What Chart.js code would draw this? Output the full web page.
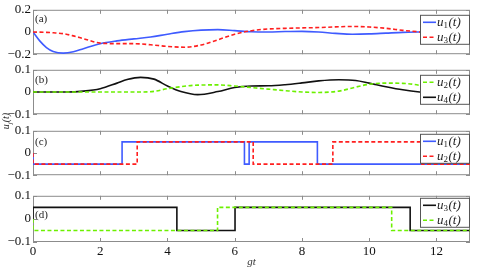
<!DOCTYPE html>
<html>
<head>
<meta charset="utf-8">
<script src="https://cdn.jsdelivr.net/npm/chart.js@4/dist/chart.umd.min.js"></script>
<style>
body { margin: 0; background: #fff; }
#wrap { position: relative; width: 485px; height: 269px; overflow: hidden; }
canvas { position: absolute; left: 0; }
#ylab { position: absolute; left: -9px; top: 115px; width: 30px; height: 12px; line-height: 12px;
  text-align: center; transform: rotate(-90deg); font: italic 10px "Liberation Serif"; color: #222; }
#ylab sub { font-size: 7px; }
</style>
</head>
<body>
<div id="wrap">
  <canvas id="pa" width="485" height="64" style="top:0px"></canvas>
  <canvas id="pb" width="485" height="64" style="top:60px"></canvas>
  <canvas id="pc" width="485" height="64" style="top:121px"></canvas>
  <canvas id="pd" width="485" height="83" style="top:186px"></canvas>
  <div id="ylab">u<sub>j</sub>(t)</div>
</div>
<script>
// panel (a): smooth curves
const tA = [0, 0.2, 0.4, 0.6, 0.9, 1.2, 1.5, 2, 2.5, 3, 3.5, 4, 4.5, 5, 5.5, 6, 6.5, 7, 7.5, 8, 8.5, 9, 9.5, 10, 10.5, 11, 11.5, 12, 12.5, 13];
const u1a = [0, -0.08, -0.14, -0.175, -0.19, -0.178, -0.15, -0.105, -0.08, -0.062, -0.045, -0.02, 0.003, 0.017, 0.021, 0.012, 0.002, 0, 0.004, 0.006, 0, -0.012, -0.02, -0.017, -0.01, -0.003, 0, 0.002, 0.002, 0];
const u3a = [0, -0.001, -0.003, -0.007, -0.015, -0.035, -0.06, -0.1, -0.105, -0.105, -0.115, -0.13, -0.137, -0.117, -0.07, -0.02, 0.012, 0.027, 0.033, 0.037, 0.04, 0.046, 0.05, 0.045, 0.033, 0.015, 0, -0.02, -0.038, -0.045];

// panel (b): smooth curves
const tB = [0, 0.5, 1, 1.5, 2, 2.5, 2.8, 3.2, 3.6, 4, 4.4, 4.9, 5.5, 6, 6.5, 7, 7.5, 8, 8.5, 9.1, 9.6, 10, 10.5, 11, 11.5, 12, 12.5, 13];
const u2b = [0, 0, 0, 0, 0, 0, 0, 0, 0.003, 0.015, 0.024, 0.031, 0.032, 0.027, 0.02, 0.013, 0.006, 0, -0.002, 0.004, 0.022, 0.035, 0.04, 0.039, 0.03, 0.01, -0.01, -0.025];
const u4b = [0, 0, 0, 0.004, 0.015, 0.04, 0.056, 0.066, 0.058, 0.027, 0.002, -0.012, 0.002, 0.02, 0.027, 0.028, 0.033, 0.041, 0.05, 0.055, 0.052, 0.04, 0.024, 0.01, 0, -0.006, -0.01, -0.012];

// switching panels (c), (d): switch times and held values
const t1c = [0, 0, 2.65, 6.29, 6.43, 8.46, 13];
const u1c = [0, -0.05, 0.05, -0.05, 0.05, -0.05, -0.05];
const t2c = [0, 0, 3.1, 6.55, 8.92, 11.57, 13];
const u2c = [0, -0.05, 0.05, -0.05, 0.05, -0.05, -0.05];
const t3d = [0, 0, 4.28, 6.01, 11.22, 13];
const u3d = [0, 0.05, -0.05, 0.05, -0.05, -0.05];
const t4d = [0, 0, 5.49, 10.67, 13];
const u4d = [0, -0.05, 0.05, -0.05, -0.05];

const xTicks = [2, 4, 6, 8, 10, 12];

const BLUE = '#3f5bff', RED = '#ff1f1f', GREEN = '#6cf000', BLACK = '#111';
const SERIF = '"Liberation Serif", "DejaVu Serif", serif';

function pts(ts, vs) {
	return ts.map((t, i) => ({ x: t, y: vs[i] }));
}

function fmt(v) {
	if (Math.abs(v) < 1e-9) return '0';
	return (v < 0 ? '\u2212' : '') + Math.abs(v).toFixed(1);
}

const framePlugin = {
	id: 'frame',
	beforeDatasetsDraw(chart) {
		const { ctx, chartArea: a, scales } = chart;
		ctx.save();
		ctx.strokeStyle = '#8c8c8c';
		ctx.lineWidth = 1;
		ctx.strokeRect(a.left + 0.5, a.top + 0.5, a.right - a.left - 1, a.bottom - a.top - 1);
		ctx.beginPath();
		xTicks.forEach(v => {
			const x = Math.round(scales.x.getPixelForValue(v)) + 0.5;
			ctx.moveTo(x, a.top); ctx.lineTo(x, a.top + 4);
			ctx.moveTo(x, a.bottom); ctx.lineTo(x, a.bottom - 4);
		});
		scales.y.ticks.forEach(t => {
			const y = Math.round(scales.y.getPixelForValue(t.value)) + 0.5;
			ctx.moveTo(a.left, y); ctx.lineTo(a.left + 4, y);
			ctx.moveTo(a.right, y); ctx.lineTo(a.right - 4, y);
		});
		ctx.stroke();
		ctx.restore();
	},
	afterDatasetsDraw(chart, args, opts) {
		const { ctx, chartArea: a } = chart;
		ctx.save();
		// panel tag
		ctx.fillStyle = '#222';
		ctx.font = '11px ' + SERIF;
		ctx.textBaseline = 'top';
		ctx.fillText(opts.tag, a.left + 2, a.top + opts.tagDy);
		// legend box
		const lw = 49, lh = 29;
		const lx = a.right - lw - 1, ly = a.top + opts.legDy;
		ctx.fillStyle = '#fff';
		ctx.fillRect(lx, ly, lw, lh);
		ctx.strokeStyle = '#555';
		ctx.lineWidth = 1;
		ctx.strokeRect(lx + 0.5, ly + 0.5, lw, lh);
		chart.data.datasets.forEach((ds, i) => {
			const y = ly + 7.5 + i * 15;
			ctx.strokeStyle = ds.borderColor;
			ctx.lineWidth = ds.borderWidth;
			ctx.setLineDash(ds.borderDash || []);
			ctx.beginPath();
			ctx.moveTo(lx + 3, y); ctx.lineTo(lx + 16, y);
			ctx.stroke();
			ctx.setLineDash([]);
			const m = ds.label.match(/u_(\d)\(t\)/);
			ctx.fillStyle = '#222';
			ctx.textBaseline = 'middle';
			let x = lx + 17;
			ctx.font = 'italic 13px ' + SERIF;
			ctx.fillText('u', x, y);
			x += ctx.measureText('u').width;
			ctx.font = '9px ' + SERIF;
			ctx.fillText(m[1], x, y + 3);
			x += ctx.measureText(m[1]).width;
			ctx.font = 'italic 13px ' + SERIF;
			ctx.fillText('(t)', x + 0.5, y);
		});
		ctx.restore();
	}
};

function line(label, ts, vs, color, dashed, stepped, order) {
	return {
		label: label,
		data: pts(ts, vs),
		borderColor: color,
		borderWidth: 1.6,
		borderDash: dashed ? [4, 2.5] : [],
		pointRadius: 0,
		fill: false,
		stepped: stepped ? 'before' : false,
		cubicInterpolationMode: 'monotone',
		order: order
	};
}

function makePanel(id, datasets, yLim, tag, tagDy, legDy, bottom) {
	new Chart(document.getElementById(id), {
		type: 'line',
		data: { datasets: datasets },
		options: {
			responsive: false,
			animation: false,
			devicePixelRatio: 1,
			layout: { padding: { top: 7, bottom: bottom ? 0 : 7, left: 0, right: 15 } },
			plugins: {
				legend: { display: false },
				tooltip: { enabled: false },
				frame: { tag: tag, tagDy: tagDy, legDy: legDy }
			},
			scales: {
				x: {
					type: 'linear',
					min: 0,
					max: 13,
					display: bottom,
					grid: { display: false, drawTicks: false },
					border: { display: false },
					ticks: {
						stepSize: 2,
						includeBounds: false,
						maxRotation: 0,
						padding: 2,
						color: '#111',
						font: { family: SERIF, size: 13 }
					},
					title: {
						display: bottom,
						text: 'gt',
						color: '#333',
						padding: { top: 0, bottom: 0 },
						font: { family: SERIF, size: 11, style: 'italic' }
					},
					afterFit: s => { if (bottom) s.height = 27; }
				},
				y: {
					min: -yLim,
					max: yLim,
					grid: { display: false, drawTicks: false },
					border: { display: false },
					ticks: {
						stepSize: yLim,
						padding: 2,
						color: '#111',
						font: { family: SERIF, size: 13 },
						callback: v => fmt(v)
					},
					afterFit: s => { s.width = 33; }
				}
			}
		},
		plugins: [framePlugin]
	});
}

makePanel('pa', [
	line('u_1(t)', tA, u1a, BLUE, false, false, 2),
	line('u_3(t)', tA, u3a, RED, true, false, 1)
], 0.2, '(a)', 4, 5, false);

makePanel('pb', [
	line('u_2(t)', tB, u2b, GREEN, true, false, 1),
	line('u_4(t)', tB, u4b, BLACK, false, false, 2)
], 0.1, '(b)', 5, 5, false);

makePanel('pc', [
	line('u_1(t)', t1c, u1c, BLUE, false, true, 2),
	line('u_2(t)', t2c, u2c, RED, true, true, 1)
], 0.1, '(c)', 6, 3, false);

makePanel('pd', [
	line('u_3(t)', t3d, u3d, BLACK, false, true, 2),
	line('u_4(t)', t4d, u4d, GREEN, true, true, 1)
], 0.1, '(d)', 14, 2, true);
</script>
</body>
</html>
